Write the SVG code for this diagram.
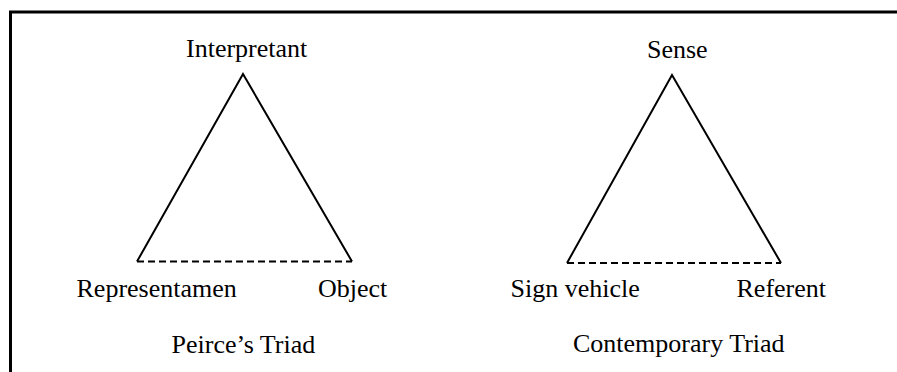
<svg xmlns="http://www.w3.org/2000/svg" width="897" height="372" viewBox="0 0 897 372">
<style>
  text { font-family: "Liberation Serif", "Times New Roman", serif; font-size: 26px; fill: #000; }
  .side { stroke: #000; stroke-width: 2; fill: none; }
  .base { stroke: #000; stroke-width: 2; fill: none; stroke-dasharray: 7 4; }
  .border { stroke: #000; stroke-width: 3; fill: none; }
</style>
<rect width="897" height="372" fill="#fff"/>
<path class="border" d="M10.5 372 V12 H897"/>
<g id="connectors">
  <path class="side" d="M137 261.5 L243 74 L352 261.5"/>
  <path class="base" d="M137 261.5 H352"/>
  <path class="side" d="M567 263 L672 75 L781 263"/>
  <path class="base" d="M567 263 H781"/>
</g>
<g id="interpretant"><text x="186" y="57">Interpretant</text></g>
<g id="representamen"><text x="76.5" y="296.5">Representamen</text></g>
<g id="object"><text x="318" y="296.5">Object</text></g>
<g id="peirce-title"><text x="171.5" y="353">Peirce’s Triad</text></g>
<g id="sense"><text x="647" y="57.5">Sense</text></g>
<g id="sign-vehicle"><text x="510.5" y="296.5">Sign vehicle</text></g>
<g id="referent"><text x="736.5" y="296.5">Referent</text></g>
<g id="contemporary-title"><text x="573" y="352">Contemporary Triad</text></g>
</svg>
